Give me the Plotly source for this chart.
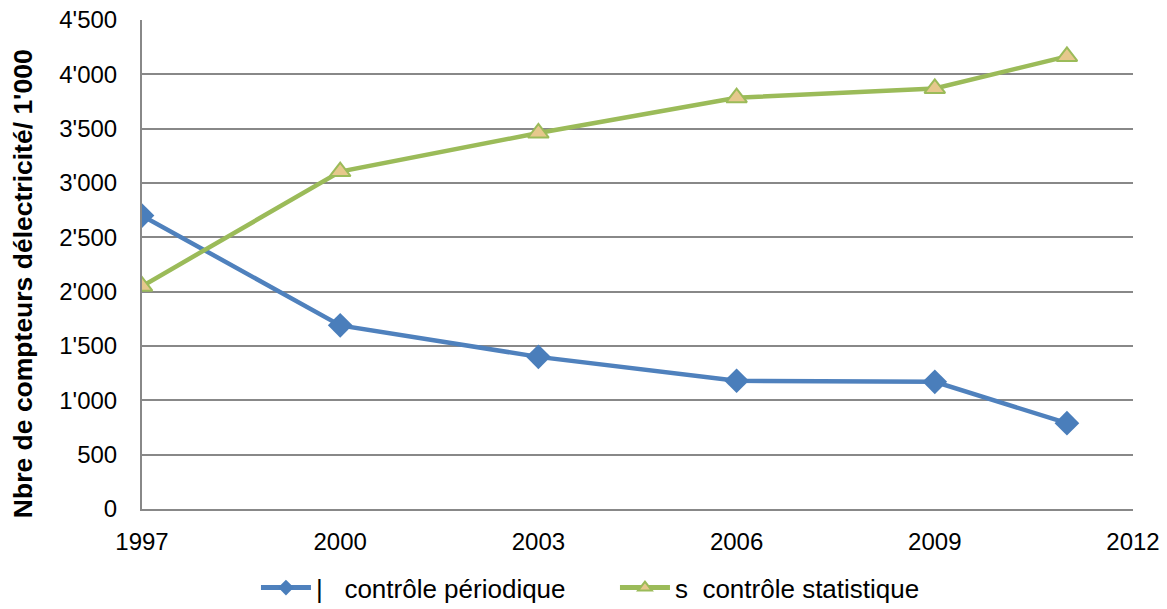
import plotly.graph_objects as go

# Meter counts (thousands) by year
years = [1997, 2000, 2003, 2006, 2009, 2011]
periodique = [2700, 1690, 1400, 1180, 1170, 790]
statistique = [2050, 3105, 3460, 3785, 3870, 4165]

y_ticks = [0, 500, 1000, 1500, 2000, 2500, 3000, 3500, 4000, 4500]
y_labels = ["0", "500", "1'000", "1'500", "2'000", "2'500", "3'000", "3'500", "4'000", "4'500"]
x_ticks = [1997, 2000, 2003, 2006, 2009, 2012]
y_title = "Nbre de compteurs délectricité/ 1'000"

FONT = "Liberation Sans, Arial, sans-serif"
GRID = "#888888"
NB = "\u00a0"

fig = go.Figure()
fig.add_trace(go.Scatter(
    x=years, y=periodique, mode="lines+markers",
    name="|" + NB * 3 + "contrôle périodique",
    line=dict(color="#4f81bd", width=4.5),
    marker=dict(symbol="diamond", size=19, color="#4a7ebb"),
))
fig.add_trace(go.Scatter(
    x=years, y=statistique, mode="lines+markers",
    name="s" + NB * 2 + "contrôle statistique",
    line=dict(color="#9bbb59", width=4.5),
    marker=dict(symbol="triangle-up", size=18, color="#e6c88c",
                line=dict(color="#9bbb59", width=2)),
))

fig.update_layout(
    width=1167, height=609,
    margin=dict(l=142, r=34, t=20, b=100, autoexpand=False),
    paper_bgcolor="white", plot_bgcolor="white",
    font=dict(family=FONT, size=24, color="black"),
    showlegend=True,
    legend=dict(orientation="h", x=0.115, xanchor="left",
                yref="container", y=0.035, yanchor="middle",
                font=dict(size=26), itemwidth=50, entrywidth=294, entrywidthmode="pixels",
                traceorder="normal", itemsizing="constant"),
)
# Rotated bold axis title, placed a little below the plot's vertical centre
fig.add_annotation(
    text="<b>" + y_title + "</b>", textangle=-90,
    xref="paper", yref="paper", x=-0.12, y=0.46,
    xanchor="center", yanchor="middle", showarrow=False,
    font=dict(size=26.5, family=FONT, color="black"),
)
fig.update_xaxes(
    range=[1997, 2012], tickvals=x_ticks, showgrid=False, automargin=False,
    showline=True, linecolor=GRID, linewidth=2, ticks="", zeroline=False,
    tickfont=dict(size=24), ticklabelstandoff=10,
)
fig.update_yaxes(
    range=[0, 4500], tickvals=y_ticks, ticktext=y_labels, automargin=False,
    showgrid=True, gridcolor=GRID, gridwidth=1.5,
    showline=True, linecolor=GRID, linewidth=2, ticks="", zeroline=False,
    tickfont=dict(size=24), ticklabelstandoff=18,
)

fig.write_html("out.html")
